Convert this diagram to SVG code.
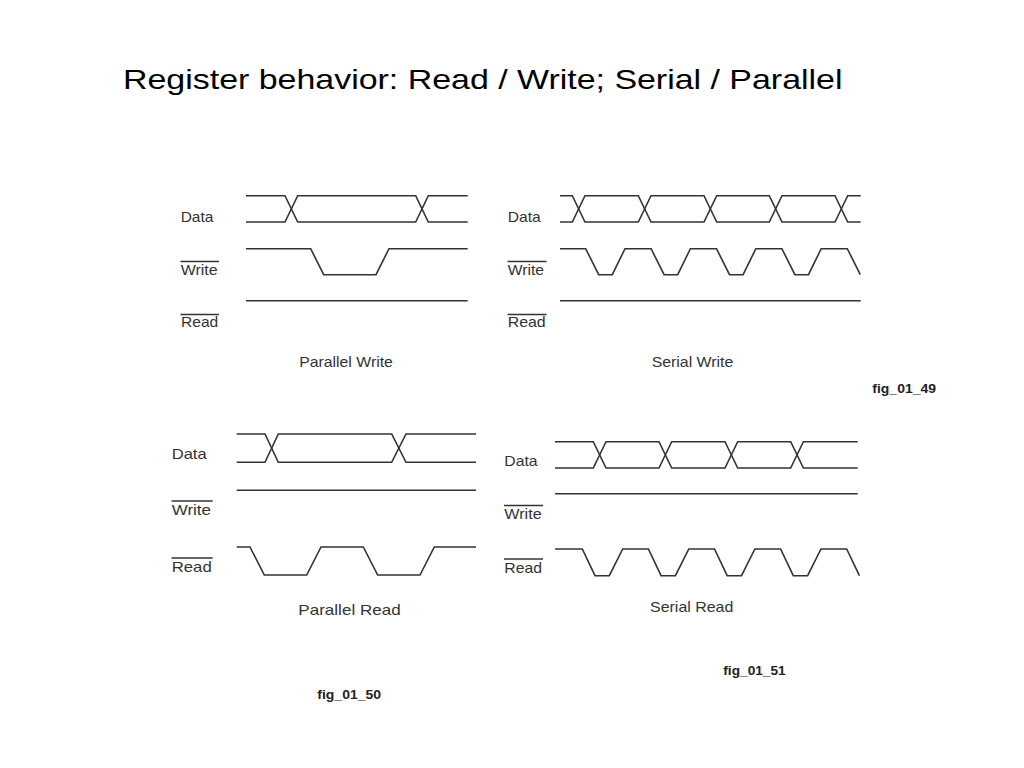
<svg xmlns="http://www.w3.org/2000/svg" width="1024" height="768" viewBox="0 0 1024 768">
<style>
.bg{fill:#ffffff}
.sig{fill:none;stroke:#333;stroke-width:1.6;stroke-linejoin:miter}
.ovl{stroke:#333;stroke-width:1.3}
text{font-family:"Liberation Sans",Arial,sans-serif}
.lbl{font-size:15px;fill:#333}
.cap{font-size:15px;fill:#333;text-anchor:middle}
.fig{font-size:13px;font-weight:bold;fill:#222}
.title{font-size:28.5px;fill:#000}
</style>
<rect class="bg" x="0" y="0" width="1024" height="768"/>
<text class="title" x="123" y="89" textLength="719.5" lengthAdjust="spacingAndGlyphs">Register behavior: Read / Write; Serial / Parallel</text>

<g id="parallel-write">
  <text class="lbl" x="180.7" y="222" textLength="32.7" lengthAdjust="spacingAndGlyphs">Data</text>
  <text class="lbl" x="180.7" y="275" textLength="37" lengthAdjust="spacingAndGlyphs">Write</text>
  <line class="ovl" x1="180.5" y1="261.5" x2="219" y2="261.5"/>
  <text class="lbl" x="181" y="327" textLength="37.3" lengthAdjust="spacingAndGlyphs">Read</text>
  <line class="ovl" x1="180.5" y1="314.5" x2="219" y2="314.5"/>
  <text class="cap" x="346" y="367" textLength="93.7" lengthAdjust="spacingAndGlyphs">Parallel Write</text>
</g>
<g id="serial-write">
  <text class="lbl" x="507.7" y="222" textLength="33" lengthAdjust="spacingAndGlyphs">Data</text>
  <text class="lbl" x="507.7" y="275" textLength="36.3" lengthAdjust="spacingAndGlyphs">Write</text>
  <line class="ovl" x1="507.5" y1="261.5" x2="546.5" y2="261.5"/>
  <text class="lbl" x="507.7" y="327" textLength="38" lengthAdjust="spacingAndGlyphs">Read</text>
  <line class="ovl" x1="507.5" y1="314.5" x2="546.5" y2="314.5"/>
  <text class="cap" x="692.5" y="367" textLength="81.7" lengthAdjust="spacingAndGlyphs">Serial Write</text>
</g>
<g id="parallel-read">
  <text class="lbl" x="171.7" y="459" textLength="35" lengthAdjust="spacingAndGlyphs">Data</text>
  <text class="lbl" x="171.7" y="515" textLength="39.3" lengthAdjust="spacingAndGlyphs">Write</text>
  <line class="ovl" x1="171.5" y1="501" x2="212.7" y2="501"/>
  <text class="lbl" x="171.7" y="572" textLength="40" lengthAdjust="spacingAndGlyphs">Read</text>
  <line class="ovl" x1="171.5" y1="558" x2="212.7" y2="558"/>
  <text class="cap" x="349.5" y="614.5" textLength="102.3" lengthAdjust="spacingAndGlyphs">Parallel Read</text>
</g>
<g id="serial-read">
  <text class="lbl" x="504.3" y="466" textLength="33.3" lengthAdjust="spacingAndGlyphs">Data</text>
  <text class="lbl" x="504.3" y="519" textLength="37.3" lengthAdjust="spacingAndGlyphs">Write</text>
  <line class="ovl" x1="504" y1="505.5" x2="543" y2="505.5"/>
  <text class="lbl" x="504.3" y="572.5" textLength="37.7" lengthAdjust="spacingAndGlyphs">Read</text>
  <line class="ovl" x1="504" y1="559" x2="543" y2="559"/>
  <text class="cap" x="691.7" y="612" textLength="83.3" lengthAdjust="spacingAndGlyphs">Serial Read</text>
</g>

<g id="waveforms">
  <!-- Parallel Write -->
  <path class="sig" d="M246 195.7 H285 L297.7 222 H415.7 L428.3 195.7 H467.7"/>
  <path class="sig" d="M246 222 H285 L297.7 195.7 H415.7 L428.3 222 H467.7"/>
  <path class="sig" d="M246 248.7 H310.7 L323.7 274.7 H376 L389 248.7 H467.7"/>
  <path class="sig" d="M246 300.7 H467.7"/>
  <!-- Serial Write -->
  <path class="sig" d="M560 195.7 H572.3 L585 222 H638.3 L651 195.7 H704 L716.7 222 H769.3 L782 195.7 H835 L847.7 222 H860.7"/>
  <path class="sig" d="M560 222 H572.3 L585 195.7 H638.3 L651 222 H704 L716.7 195.7 H769.3 L782 222 H835 L847.7 195.7 H860.7"/>
  <path class="sig" d="M560 248.7 H585.7 L598.7 274.7 H612.3 L625 248.7 H651.1 L664.1 274.7 H677.7 L690.4 248.7 H716.5 L729.5 274.7 H743.1 L755.8 248.7 H781.9 L794.9 274.7 H808.5 L821.2 248.7 H847.3 L860.3 274.7"/>
  <path class="sig" d="M560 300.7 H860.7"/>
  <!-- Parallel Read -->
  <path class="sig" d="M236.7 434 H265 L278.3 462.3 H391.7 L406 434 H476"/>
  <path class="sig" d="M236.7 462.3 H265 L278.3 434 H391.7 L406 462.3 H476"/>
  <path class="sig" d="M236.7 490.3 H476"/>
  <path class="sig" d="M236.7 547 H250 L264.3 575 H306.7 L321 547 H363.3 L377.7 575 H420 L434.3 547 H476"/>
  <!-- Serial Read -->
  <path class="sig" d="M555 441.7 H593.3 L606 468 H659 L671.7 441.7 H725 L737.7 468 H790.7 L803.4 441.7 H857.7"/>
  <path class="sig" d="M555 468 H593.3 L606 441.7 H659 L671.7 468 H725 L737.7 441.7 H790.7 L803.4 468 H857.7"/>
  <path class="sig" d="M555 493.7 H857.7"/>
  <path class="sig" d="M555 549 H582.3 L595 575.7 H609.3 L622.7 549 H648.4 L661.1 575.7 H675.4 L688.8 549 H714.5 L727.2 575.7 H741.5 L754.9 549 H780.6 L793.3 575.7 H807.6 L821 549 H846.7 L859.4 575.7"/>
</g>

<text class="fig" x="872.3" y="392.5" textLength="63.7" lengthAdjust="spacingAndGlyphs">fig_01_49</text>
<text class="fig" x="317.3" y="698.5" textLength="63.7" lengthAdjust="spacingAndGlyphs">fig_01_50</text>
<text class="fig" x="723.3" y="675" textLength="62.4" lengthAdjust="spacingAndGlyphs">fig_01_51</text>
</svg>
